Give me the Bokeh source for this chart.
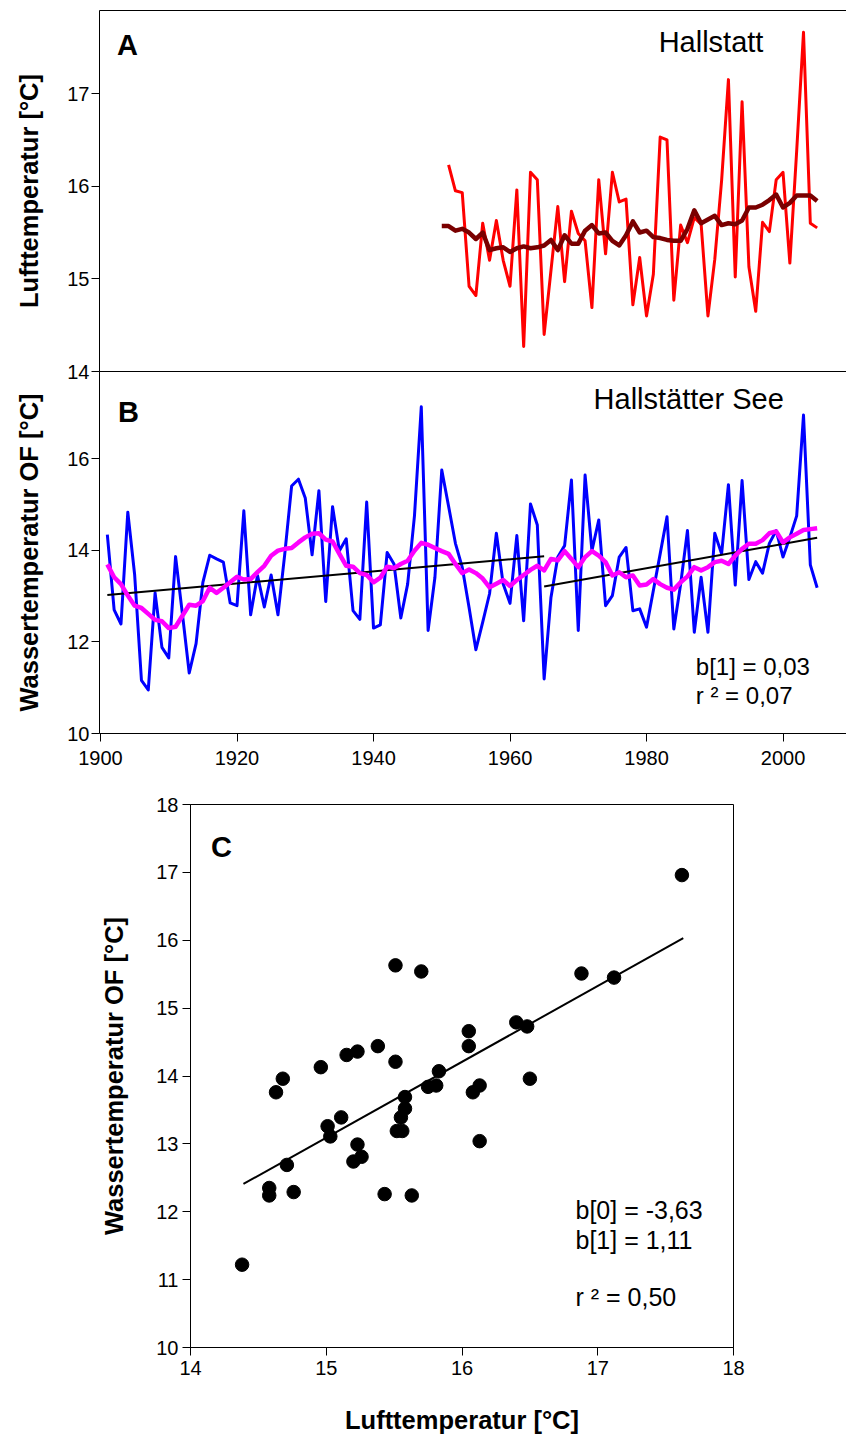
from bokeh.plotting import figure
from bokeh.models import Range1d, FixedTicker, LinearAxis, Label
from bokeh.layouts import column
from bokeh.embed import file_html
from bokeh.resources import INLINE

FONT = "Liberation Sans"

# ---------------- Panel A: Hallstatt air temperature ----------------
air_years = list(range(1951, 2006))
air_temp = [16.23, 15.95, 15.93, 14.92, 14.82, 15.60, 15.20, 15.63, 15.20, 14.92,
            15.96, 14.27, 16.15, 16.07, 14.40, 15.09, 15.78, 14.97, 15.73, 15.49,
            15.41, 14.69, 16.07, 15.27, 16.15, 15.83, 15.86, 14.72, 15.23, 14.60,
            15.05, 16.53, 16.50, 14.77, 15.58, 15.39, 15.66, 15.59, 14.60, 15.21,
            16.06, 17.15, 15.02, 16.91, 15.13, 14.65, 15.61, 15.51, 16.07, 16.15,
            15.17, 16.38, 17.66, 15.60, 15.55]
air_smooth_years = list(range(1950, 2006))
air_smooth = [15.57, 15.57, 15.52, 15.54, 15.50, 15.43, 15.50, 15.31, 15.33, 15.34,
              15.29, 15.33, 15.35, 15.33, 15.34, 15.36, 15.42, 15.31, 15.47, 15.38,
              15.38, 15.52, 15.58, 15.49, 15.50, 15.41, 15.36, 15.47, 15.62, 15.50,
              15.52, 15.45, 15.44, 15.42, 15.41, 15.41, 15.54, 15.74, 15.60, 15.64,
              15.68, 15.58, 15.60, 15.59, 15.63, 15.77, 15.77, 15.80, 15.85, 15.91,
              15.77, 15.82, 15.90, 15.90, 15.90, 15.84]

# ---------------- Panel B: Hallstaetter See surface temperature ----------------
lake_years = list(range(1901, 2006))
lake_temp = [14.34, 12.70, 12.39, 14.83, 13.47, 11.16, 10.95, 13.07, 11.88, 11.65,
             13.86, 12.61, 11.32, 11.96, 13.30, 13.89, 13.81, 13.74, 12.85, 12.79,
             14.86, 12.59, 13.45, 12.76, 13.46, 12.59, 13.92, 15.40, 15.55, 15.14,
             13.90, 15.30, 12.88, 14.95, 13.99, 14.25, 12.68, 12.49, 15.05, 12.30,
             12.37, 13.95, 13.70, 12.52, 13.26, 14.75, 17.13, 12.25, 13.41, 15.75,
             14.96, 14.15, 13.63, 12.75, 11.83, 12.43, 13.05, 14.37, 13.26, 12.84,
             14.32, 12.46, 15.01, 14.55, 11.19, 12.97, 13.85, 14.10, 15.53, 12.25,
             15.64, 13.99, 14.66, 12.79, 13.01, 13.85, 14.06, 12.68, 12.72, 12.32,
             13.12, 13.92, 14.73, 12.28, 13.26, 14.43, 12.21, 13.41, 12.21, 14.37,
             13.92, 15.43, 13.24, 15.52, 13.36, 13.75, 13.50, 14.15, 14.43, 13.85,
             14.28, 14.75, 16.95, 13.68, 13.18]
lake_smooth = [13.69, 13.41, 13.26, 13.01, 12.79, 12.74, 12.61, 12.48, 12.45, 12.30,
               12.33, 12.57, 12.81, 12.79, 12.89, 13.18, 13.07, 13.18, 13.30, 13.42,
               13.36, 13.37, 13.52, 13.66, 13.88, 13.99, 14.03, 14.05, 14.17, 14.28,
               14.36, 14.37, 14.23, 14.19, 13.92, 13.66, 13.64, 13.50, 13.46, 13.30,
               13.40, 13.64, 13.61, 13.70, 13.77, 13.99, 14.16, 14.12, 14.05, 13.98,
               13.92, 13.70, 13.50, 13.58, 13.50, 13.38, 13.19, 13.27, 13.35, 13.22,
               13.35, 13.46, 13.57, 13.66, 13.56, 13.81, 13.78, 13.98, 13.81, 13.63,
               13.85, 13.98, 13.88, 13.74, 13.45, 13.52, 13.41, 13.45, 13.23, 13.25,
               13.37, 13.26, 13.18, 13.14, 13.30, 13.43, 13.63, 13.56, 13.63, 13.74,
               13.77, 13.70, 13.88, 14.03, 14.14, 14.14, 14.22, 14.37, 14.41, 14.17,
               14.28, 14.36, 14.44, 14.46, 14.48]
trend1_years = [1901, 1965]
trend1_vals = [13.02, 13.87]
trend2_years = [1965, 2005]
trend2_vals = [13.21, 14.27]

# ---------------- Panel C: air vs. water temperature ----------------
sc_air = [14.38, 14.58, 14.58, 14.63, 14.68, 14.71, 14.76, 14.96, 15.01, 15.03,
          15.11, 15.15, 15.23, 15.23, 15.20, 15.26, 15.38, 15.43, 15.51, 15.51,
          15.52, 15.56, 15.55, 15.58, 15.58, 15.63, 15.70, 15.75, 15.81, 15.83,
          16.05, 16.05, 16.08, 16.13, 16.13, 16.40, 16.48, 16.50, 16.88, 17.12,
          17.62]
sc_water = [11.22, 12.35, 12.24, 13.76, 13.96, 12.69, 12.29, 14.13, 13.26, 13.11,
            13.39, 14.31, 14.36, 12.99, 12.74, 12.81, 14.44, 12.26, 15.63, 14.21,
            13.19, 13.19, 13.39, 13.52, 13.69, 12.24, 15.54, 13.84, 13.86, 14.07,
            14.66, 14.44, 13.76, 13.86, 13.04, 14.79, 14.73, 13.96, 15.51, 15.45,
            16.96]
fit_air = [14.39, 17.63]
fit_water = [12.41, 16.03]

x_ticks = [1900, 1920, 1940, 1960, 1980, 2000]
a_ticks = [14, 15, 16, 17]
b_ticks = [10, 12, 14, 16]
c_x_ticks = [14, 15, 16, 17, 18]
c_y_ticks = [10, 11, 12, 13, 14, 15, 16, 17, 18]

X_RANGE = Range1d(1899.853, 2009.30)


def base_axis_style(ax, tick_len=8, label_size="20px"):
    ax.axis_line_color = "black"
    ax.axis_line_width = 1
    ax.major_tick_line_color = "black"
    ax.major_tick_out = tick_len
    ax.major_tick_in = 0
    ax.minor_tick_line_color = None
    ax.major_label_text_font = FONT
    ax.major_label_text_font_size = label_size
    ax.major_label_text_color = "black"
    ax.axis_label_text_font = FONT
    ax.axis_label_text_font_size = "25.5px"
    ax.axis_label_text_font_style = "bold"
    ax.axis_label_text_color = "black"


def plain_line_axis():
    return LinearAxis(ticker=FixedTicker(ticks=[]), major_tick_out=0, major_tick_in=0,
                      minor_tick_out=0, minor_tick_in=0, major_label_standoff=0,
                      axis_line_color="black")


def add_label(p, x, y, text, size, bold=False, align="left"):
    p.add_layout(Label(x=x, y=y, text=text, text_font=FONT, text_font_size=size,
                       text_font_style="bold" if bold else "normal",
                       text_align=align, text_baseline="middle", text_color="black"))


# ---- A ----
pA = figure(width=846, height=383, x_range=X_RANGE, y_range=Range1d(14, 17.896),
            output_backend="svg", toolbar_location=None,
            min_border_left=99, min_border_right=0, min_border_top=10, min_border_bottom=12)
pA.outline_line_color = None
pA.grid.visible = False
base_axis_style(pA.yaxis[0])
pA.yaxis.ticker = FixedTicker(ticks=a_ticks)
pA.yaxis.major_label_standoff = 2
pA.yaxis.axis_label = "Lufttemperatur [°C]"
pA.yaxis.axis_label_standoff = 21
pA.xaxis.visible = False
pA.add_layout(plain_line_axis(), "above")
pA.add_layout(plain_line_axis(), "below")
pA.line(air_years, air_temp, line_color="#ff0000", line_width=3, line_join="round")
pA.line(air_smooth_years, air_smooth, line_color="#7a0000", line_width=4.5, line_join="round")
add_label(pA, 1903.96, 17.52, "A", "29px", bold=True, align="center")
add_label(pA, 1989.45, 17.56, "Hallstatt", "29px", align="center")

# ---- B ----
pB = figure(width=846, height=409, x_range=X_RANGE, y_range=Range1d(10, 17.9),
            output_backend="svg", toolbar_location=None, margin=(-12, 0, 0, 0),
            min_border_left=99, min_border_right=0, min_border_top=0, min_border_bottom=47)
pB.outline_line_color = None
pB.background_fill_color = None
pB.border_fill_color = None
pB.grid.visible = False
base_axis_style(pB.yaxis[0])
base_axis_style(pB.xaxis[0])
pB.yaxis.ticker = FixedTicker(ticks=b_ticks)
pB.yaxis.major_label_standoff = 2
pB.yaxis.axis_label = "Wassertemperatur OF [°C]"
pB.yaxis.axis_label_standoff = 21
pB.xaxis.ticker = FixedTicker(ticks=x_ticks)
pB.xaxis.major_label_standoff = 9
pB.line(lake_years, lake_temp, line_color="#0000ff", line_width=3, line_join="round")
pB.line(trend1_years, trend1_vals, line_color="black", line_width=2)
pB.line(trend2_years, trend2_vals, line_color="black", line_width=2)
pB.line(lake_years, lake_smooth, line_color="#ff00ff", line_width=4.5, line_join="round")
add_label(pB, 1904.1, 17.02, "B", "29px", bold=True, align="center")
add_label(pB, 1986.18, 17.30, "Hallstätter See", "29px", align="center")
add_label(pB, 1987.22, 11.46, "b[1] = 0,03", "24px")
add_label(pB, 1987.22, 10.84, "r ² = 0,07", "24px")

# ---- C ----
pC = figure(width=846, height=658, x_range=Range1d(14, 18), y_range=Range1d(10, 18),
            output_backend="svg", toolbar_location=None,
            min_border_left=190, min_border_right=113, min_border_top=24, min_border_bottom=91)
pC.outline_line_color = "black"
pC.outline_line_width = 1
pC.grid.visible = False
base_axis_style(pC.yaxis[0])
base_axis_style(pC.xaxis[0])
pC.xaxis.ticker = FixedTicker(ticks=c_x_ticks)
pC.yaxis.ticker = FixedTicker(ticks=c_y_ticks)
pC.xaxis.axis_label = "Lufttemperatur [°C]"
pC.yaxis.axis_label = "Wassertemperatur OF [°C]"
pC.yaxis.major_label_standoff = 4
pC.yaxis.axis_label_standoff = 25
pC.xaxis.major_label_standoff = 5
pC.xaxis.axis_label_standoff = 28
pC.line(fit_air, fit_water, line_color="black", line_width=2)
pC.scatter(sc_air, sc_water, size=13.5, fill_color="black", line_color="black")
add_label(pC, 14.228, 17.37, "C", "29px", bold=True, align="center")
add_label(pC, 16.836, 12.02, "b[0] = -3,63", "25px")
add_label(pC, 16.836, 11.58, "b[1] = 1,11", "25px")
add_label(pC, 16.836, 10.74, "r ² = 0,50", "25px")

for p in (pA, pB, pC):
    try:
        p.frame_align = False
    except Exception:
        pass

layout = column(pA, pB, pC, spacing=0)
open("out.html", "w").write(file_html(layout, INLINE))
